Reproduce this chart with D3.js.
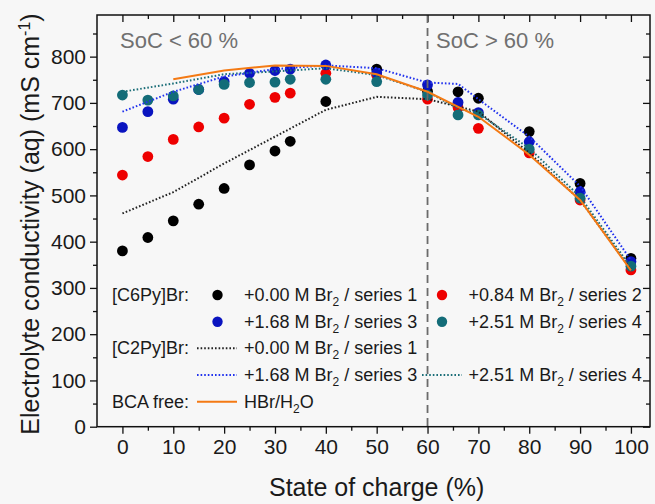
<!DOCTYPE html>
<html>
<head>
<meta charset="utf-8">
<script src="https://cdn.jsdelivr.net/npm/d3@7"></script>
<style>
  body { margin: 0; background: #f7f7f7; }
  text { font-family: "Liberation Sans", Arial, sans-serif; fill: #1a1a1a; }
</style>
</head>
<body>
<script>

// state of charge (%) where the [C6Py]Br points were measured
var soc = [0, 5, 10, 15, 20, 25, 30, 33, 40, 50, 60, 66, 70, 80, 90, 100];
var c6Series1 = [380, 409, 445, 481, 515, 566, 596, 617, 703, 773, 725, 724, 710, 638, 526, 364];
var c6Series2 = [544, 584, 621, 648, 667, 697, 712, 721, 764, 760, 708, 690, 645, 592, 490, 339];
var c6Series3 = [647, 681, 708, 729, 746, 764, 770, 773, 782, 765, 739, 701, 679, 616, 508, 357];
var c6Series4 = [717, 706, 715, 729, 740, 744, 745, 751, 751, 746, 717, 674, 674, 600, 494, 347];

// [C2Py]Br curves
var c2Soc = [0, 10, 20, 30, 40, 50, 60, 66, 70, 80, 90, 100];
var c2Series1 = [461, 507, 569, 627, 685, 713, 708, 692, 681, 592, 490, 340];
var c2Series3 = [681, 724, 757, 773, 781, 775, 744, 741, 708, 627, 520, 360];
var c2Series4 = [724, 742, 762, 768, 775, 760, 724, 688, 677, 602, 497, 345];

// BCA free HBr/H2O
var hbrSoc = [10, 20, 30, 40, 50, 60, 70, 80, 90, 100];
var hbr = [751, 770, 781, 780, 762, 724, 670, 588, 490, 338];

var xTicks = [0, 10, 20, 30, 40, 50, 60, 70, 80, 90, 100];
var yTicks = [0, 100, 200, 300, 400, 500, 600, 700, 800];

function main() {
    var W = 655, H = 504;
    var left = 97, right = 650, top = 15, bottom = 426.7;

    var svg = d3.select("body")
      .append("svg")
      .attr("width", W)
      .attr("height", H);

    svg.append("rect").attr("width", W).attr("height", H).attr("fill", "#f7f7f7");

    var x = d3.scaleLinear().domain([-5, 103.75]).range([left, right]);
    var y = d3.scaleLinear().domain([0, 890]).range([bottom, top]);

    // axes
    var minorX = d3.range(5, 100, 10);
    var minorY = d3.range(50, 890, 100);

    function clean(g) {
        g.select(".domain").remove();
        g.selectAll("line").attr("stroke", "#111").attr("stroke-width", 1.3);
        g.selectAll("text").attr("font-size", 21).attr("fill", "#1a1a1a")
          .attr("font-family", "'Liberation Sans', Arial, sans-serif");
    }

    svg.append("g").attr("transform", "translate(0," + bottom + ")")
      .call(d3.axisBottom(x).tickValues(xTicks).tickSize(7).tickPadding(5))
      .call(clean);
    svg.append("g").attr("transform", "translate(0," + bottom + ")")
      .call(d3.axisBottom(x).tickValues(minorX).tickSize(4).tickFormat(""))
      .call(clean);
    svg.append("g").attr("transform", "translate(0," + top + ")")
      .call(d3.axisTop(x).tickValues(xTicks).tickSize(-7).tickFormat(""))
      .call(clean);
    svg.append("g").attr("transform", "translate(0," + top + ")")
      .call(d3.axisTop(x).tickValues(minorX).tickSize(-4).tickFormat(""))
      .call(clean);

    svg.append("g").attr("transform", "translate(" + left + ",0)")
      .call(d3.axisLeft(y).tickValues(yTicks).tickSize(7).tickPadding(4))
      .call(clean);
    svg.append("g").attr("transform", "translate(" + left + ",0)")
      .call(d3.axisLeft(y).tickValues(minorY).tickSize(4).tickFormat(""))
      .call(clean);
    svg.append("g").attr("transform", "translate(" + right + ",0)")
      .call(d3.axisRight(y).tickValues(yTicks).tickSize(-7).tickFormat(""))
      .call(clean);
    svg.append("g").attr("transform", "translate(" + right + ",0)")
      .call(d3.axisRight(y).tickValues(minorY).tickSize(-4).tickFormat(""))
      .call(clean);

    // points
    var dotSets = [
        { v: c6Series1, c: "#000000" },
        { v: c6Series2, c: "#ee0000" },
        { v: c6Series3, c: "#0a14c0" },
        { v: c6Series4, c: "#136c78" }
    ];
    dotSets.forEach(function (s) {
        svg.append("g").selectAll("circle")
          .data(soc)
          .enter()
          .append("circle")
          .attr("cx", function (d) { return x(d); })
          .attr("cy", function (d, i) { return y(s.v[i]); })
          .attr("r", 5.4)
          .attr("fill", s.c);
    });

    // curves
    var line = function (xs, ys) {
        return d3.line()
          .x(function (d) { return x(d); })
          .y(function (d, i) { return y(ys[i]); })(xs);
    };
    var lineSets = [
        { xs: c2Soc, ys: c2Series1, c: "#222222", dash: "1.6,2" },
        { xs: c2Soc, ys: c2Series4, c: "#1b6e78", dash: "1.6,2" },
        { xs: c2Soc, ys: c2Series3, c: "#2233ee", dash: "1.6,2" },
        { xs: hbrSoc, ys: hbr, c: "#f47a14", dash: null }
    ];
    lineSets.forEach(function (s) {
        svg.append("path")
          .attr("d", line(s.xs, s.ys))
          .attr("fill", "none")
          .attr("stroke", s.c)
          .attr("stroke-width", 2)
          .attr("stroke-dasharray", s.dash);
    });

    // 60 % divider
    svg.append("line")
      .attr("x1", x(60)).attr("x2", x(60))
      .attr("y1", top).attr("y2", bottom)
      .attr("stroke", "#6b6b6b")
      .attr("stroke-width", 1.8)
      .attr("stroke-dasharray", "8,5");

    svg.append("text").attr("x", 120).attr("y", 48)
      .attr("font-size", 22).style("fill", "#707070").text("SoC < 60 %");
    svg.append("text").attr("x", 436).attr("y", 48)
      .attr("font-size", 22).style("fill", "#707070").text("SoC > 60 %");

    // frame
    svg.append("rect")
      .attr("x", left).attr("y", top)
      .attr("width", right - left).attr("height", bottom - top)
      .attr("fill", "none").attr("stroke", "#111").attr("stroke-width", 1.5);

    // legend
    var rows = [295, 321.7, 348.3, 375, 401.7];
    var leg = svg.append("g").attr("font-size", 18);

    function label(tx, ty, conc, series) {
        var t = leg.append("text").attr("x", tx).attr("y", ty + 6).attr("font-size", 18);
        t.append("tspan").text("+" + conc + " M Br");
        t.append("tspan").attr("dy", 5).attr("font-size", 12).text("2");
        t.append("tspan").attr("dy", -5).text(" / series " + series);
    }
    function dot(cx, cy, c) {
        leg.append("circle").attr("cx", cx).attr("cy", cy).attr("r", 5.2).attr("fill", c);
    }
    function seg(x1, cy, c, dash) {
        leg.append("line").attr("x1", x1).attr("x2", x1 + 40)
          .attr("y1", cy).attr("y2", cy)
          .attr("stroke", c).attr("stroke-width", 2)
          .attr("stroke-dasharray", dash);
    }

    leg.append("text").attr("x", 112).attr("y", rows[0] + 6).attr("font-size", 18).text("[C6Py]Br:");
    dot(217.5, rows[0], dotSets[0].c); label(244, rows[0], "0.00", 1);
    dot(442, rows[0], dotSets[1].c); label(468.6, rows[0], "0.84", 2);
    dot(217.5, rows[1], dotSets[2].c); label(244, rows[1], "1.68", 3);
    dot(442, rows[1], dotSets[3].c); label(468.6, rows[1], "2.51", 4);

    leg.append("text").attr("x", 112).attr("y", rows[2] + 6).attr("font-size", 18).text("[C2Py]Br:");
    seg(197, rows[2], "#222222", "1.6,2"); label(244, rows[2], "0.00", 1);
    seg(197, rows[3], "#2233ee", "1.6,2"); label(244, rows[3], "1.68", 3);
    seg(422, rows[3], "#1b6e78", "1.6,2"); label(468.6, rows[3], "2.51", 4);

    leg.append("text").attr("x", 112).attr("y", rows[4] + 6).attr("font-size", 18).text("BCA free:");
    seg(197, rows[4], "#f47a14", null);
    var h = leg.append("text").attr("x", 244).attr("y", rows[4] + 6).attr("font-size", 18);
    h.append("tspan").text("HBr/H");
    h.append("tspan").attr("dy", 5).attr("font-size", 12).text("2");
    h.append("tspan").attr("dy", -5).text("O");

    // axis titles
    svg.append("text")
      .attr("x", (x(0) + x(100)) / 2).attr("y", 496)
      .attr("text-anchor", "middle").attr("font-size", 25)
      .text("State of charge (%)");

    var yt = svg.append("text")
      .attr("transform", "translate(39," + 224 + ") rotate(-90)")
      .attr("text-anchor", "middle").attr("font-size", 25);
    yt.append("tspan").text("Electrolyte conductivity (aq) (mS cm");
    yt.append("tspan").attr("dy", -9).attr("font-size", 16).text("-1");
    yt.append("tspan").attr("dy", 9).text(")");
}

main();
</script>
</body>
</html>
